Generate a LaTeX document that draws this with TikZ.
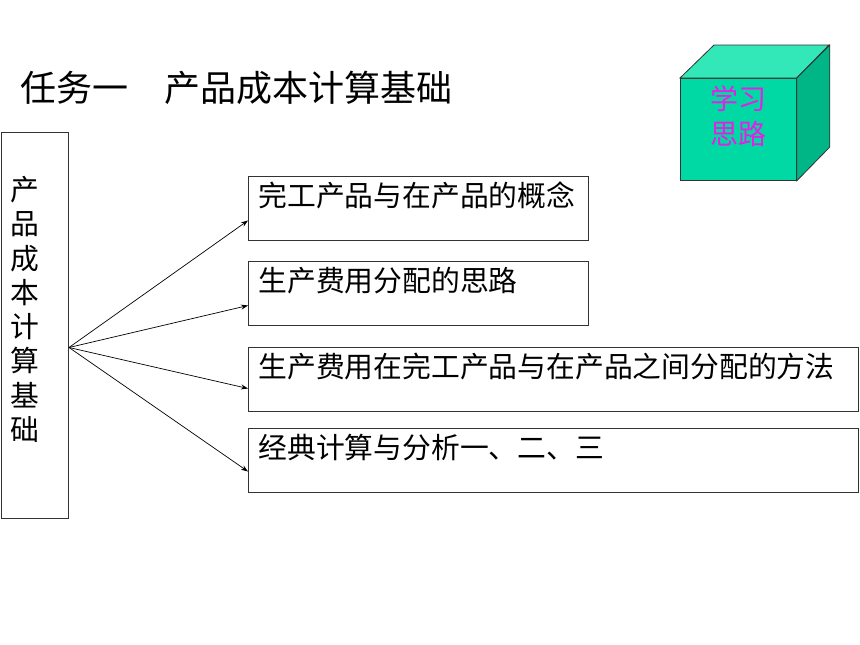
\documentclass[tikz,border=0pt]{standalone}
\usepackage{fontspec}
\setmainfont{Noto Sans CJK SC}
\usetikzlibrary{arrows.meta,positioning}

\definecolor{cubefront}{RGB}{0,217,163}
\definecolor{cubetop}{RGB}{51,232,184}
\definecolor{cubeside}{RGB}{0,181,134}
\definecolor{cubeword}{RGB}{230,30,230}

\begin{document}
\begin{tikzpicture}[>={Stealth[length=7pt,width=5pt]},x=1pt,y=-1pt,font=\fontsize{28.8}{34.3}\selectfont]

    % Define node styles
    \tikzstyle{item} = [draw=black!80, line width=1pt, inner ysep=0pt, inner xsep=10pt, text height=30pt, text depth=34pt, align=left]
    \tikzstyle{face} = [draw=black!80, line width=0.8pt]

    \useasboundingbox (0,0) rectangle (860,645);

    % Draw nodes
    \node [anchor=west, inner sep=0pt, font=\fontsize{36}{40}\selectfont] (title) at (20,88) {任务一　产品成本计算基础};

    \node [draw=black!80, line width=1pt, anchor=north west, inner sep=0pt, minimum width=67pt, minimum height=386pt] (lbox) at (1,132) {};
    \node [anchor=north west, inner sep=0pt, text width=30pt, align=left] (ltext) at ([xshift=9pt,yshift=-44pt]lbox.north west) {产\\品\\成\\本\\计\\算\\基\\础};

    \node [item, text width=320pt, anchor=north west] (b1) at (248,176) {完工产品与在产品的概念};
    \node [item, text width=320pt, below=20pt of b1] (b2) {生产费用分配的思路};
    \node [item, text width=590pt, below=21pt of b2.south west, anchor=north west] (b3) {生产费用在完工产品与在产品之间分配的方法};
    \node [item, text width=590pt, below=16pt of b3] (b4) {经典计算与分析一、二、三};

    \node [face, fill=cubefront, anchor=north west, minimum width=116pt, minimum height=102pt] (cube) at (680,78) {};
    \filldraw [face, fill=cubetop] (cube.north west) -- ++(34,-33) -- ++(115,0) -- (cube.north east) -- cycle;
    \filldraw [face, fill=cubeside] (cube.north east) -- ++(33,-33) -- ++(0,102) -- (cube.south east) -- cycle;
    \node [text=cubeword, align=center, font=\fontsize{28}{35}\selectfont] (cubetext) at (738,116) {学习\\思路};

    % Draw arrows
    \draw [->, line width=0.7pt] ([yshift=-22pt]lbox.east) -- ([yshift=-12pt]b1.west);
    \draw [->, line width=0.7pt] ([yshift=-22pt]lbox.east) -- ([yshift=-12pt]b2.west);
    \draw [->, line width=0.7pt] ([yshift=-22pt]lbox.east) -- ([yshift=-9pt]b3.west);
    \draw [->, line width=0.7pt] ([yshift=-22pt]lbox.east) -- ([yshift=-11pt]b4.west);

\end{tikzpicture}
\end{document}
